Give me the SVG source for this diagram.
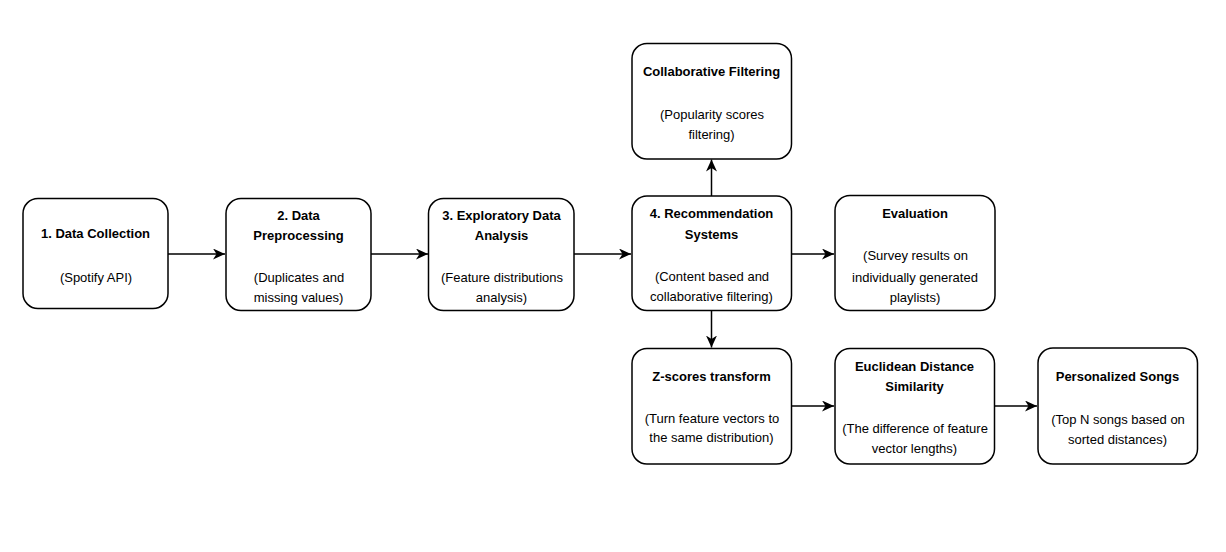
<svg xmlns="http://www.w3.org/2000/svg" width="1226" height="552" viewBox="0 0 1226 552">
<style>
.box{fill:#fff;stroke:#000;stroke-width:1.5}
.t{font-family:"Liberation Sans",Arial,sans-serif;font-size:13px;fill:#000;text-anchor:middle}
.b{font-weight:bold}
.c{fill:none;stroke:#000;stroke-width:1.5}
</style>
<defs>
<marker id="arr" markerUnits="userSpaceOnUse" markerWidth="14" markerHeight="12" refX="12" refY="5.5" orient="auto">
<path d="M0,0 L12,5.5 L0,11 L3.5,5.5 z" fill="#000"/>
</marker>
</defs>
<rect width="1226" height="552" fill="#fff"/>
<g id="connectors">
<line class="c" x1="168" y1="254" x2="225" y2="254" marker-end="url(#arr)"/>
<line class="c" x1="371" y1="254" x2="428" y2="254" marker-end="url(#arr)"/>
<line class="c" x1="574" y1="254" x2="631" y2="254" marker-end="url(#arr)"/>
<line class="c" x1="791" y1="254" x2="834" y2="254" marker-end="url(#arr)"/>
<line class="c" x1="711.5" y1="196" x2="711.5" y2="159.5" marker-end="url(#arr)"/>
<line class="c" x1="711.5" y1="310.5" x2="711.5" y2="347.5" marker-end="url(#arr)"/>
<line class="c" x1="791.5" y1="406" x2="834" y2="406" marker-end="url(#arr)"/>
<line class="c" x1="994.5" y1="406" x2="1037" y2="406" marker-end="url(#arr)"/>
</g>
<g id="n1">
<rect class="box" x="23" y="198.5" width="145" height="110" rx="15"/>
<text class="t b" x="95.5" y="238">1. Data Collection</text>
<text class="t" x="96" y="281.5">(Spotify API)</text>
</g>
<g id="n2">
<rect class="box" x="226" y="198.5" width="145" height="112" rx="15"/>
<text class="t b" x="298.5" y="219.5">2. Data</text>
<text class="t b" x="298.5" y="240">Preprocessing</text>
<text class="t" x="299" y="281.5">(Duplicates and</text>
<text class="t" x="298.5" y="302">missing values)</text>
</g>
<g id="n3">
<rect class="box" x="428.5" y="198.5" width="145.5" height="112" rx="15"/>
<text class="t b" x="501.5" y="219.5">3. Exploratory Data</text>
<text class="t b" x="501.5" y="240">Analysis</text>
<text class="t" x="502" y="281.5">(Feature distributions</text>
<text class="t" x="501.5" y="302">analysis)</text>
</g>
<g id="n4">
<rect class="box" x="632" y="196" width="159.5" height="114.5" rx="15"/>
<text class="t b" x="711.5" y="218">4. Recommendation</text>
<text class="t b" x="711.5" y="238.5">Systems</text>
<text class="t" x="712" y="280.5">(Content based and</text>
<text class="t" x="711.5" y="301">collaborative filtering)</text>
</g>
<g id="n5">
<rect class="box" x="632" y="43.5" width="159.5" height="115.5" rx="15"/>
<text class="t b" x="711.5" y="75.5">Collaborative Filtering</text>
<text class="t" x="712" y="118.5">(Popularity scores</text>
<text class="t" x="711.5" y="139">filtering)</text>
</g>
<g id="n6">
<rect class="box" x="835" y="195.5" width="160" height="115" rx="15"/>
<text class="t b" x="915" y="218">Evaluation</text>
<text class="t" x="915.5" y="259.5">(Survey results on</text>
<text class="t" x="915" y="281.5">individually generated</text>
<text class="t" x="915" y="302">playlists)</text>
</g>
<g id="n7">
<rect class="box" x="632" y="348.5" width="159.5" height="115.5" rx="15"/>
<text class="t b" x="711.5" y="380.5">Z-scores transform</text>
<text class="t" x="712" y="423">(Turn feature vectors to</text>
<text class="t" x="711.5" y="442">the same distribution)</text>
</g>
<g id="n8">
<rect class="box" x="835" y="348.5" width="159.5" height="115.5" rx="15"/>
<text class="t b" x="914.5" y="371">Euclidean Distance</text>
<text class="t b" x="914.5" y="391">Similarity</text>
<text class="t" x="915" y="432.5">(The difference of feature</text>
<text class="t" x="914.5" y="452.5">vector lengths)</text>
</g>
<g id="n9">
<rect class="box" x="1038" y="348" width="159.5" height="116" rx="15"/>
<text class="t b" x="1117.5" y="380.5">Personalized Songs</text>
<text class="t" x="1118" y="423.5">(Top N songs based on</text>
<text class="t" x="1117.5" y="443.5">sorted distances)</text>
</g>
</svg>
